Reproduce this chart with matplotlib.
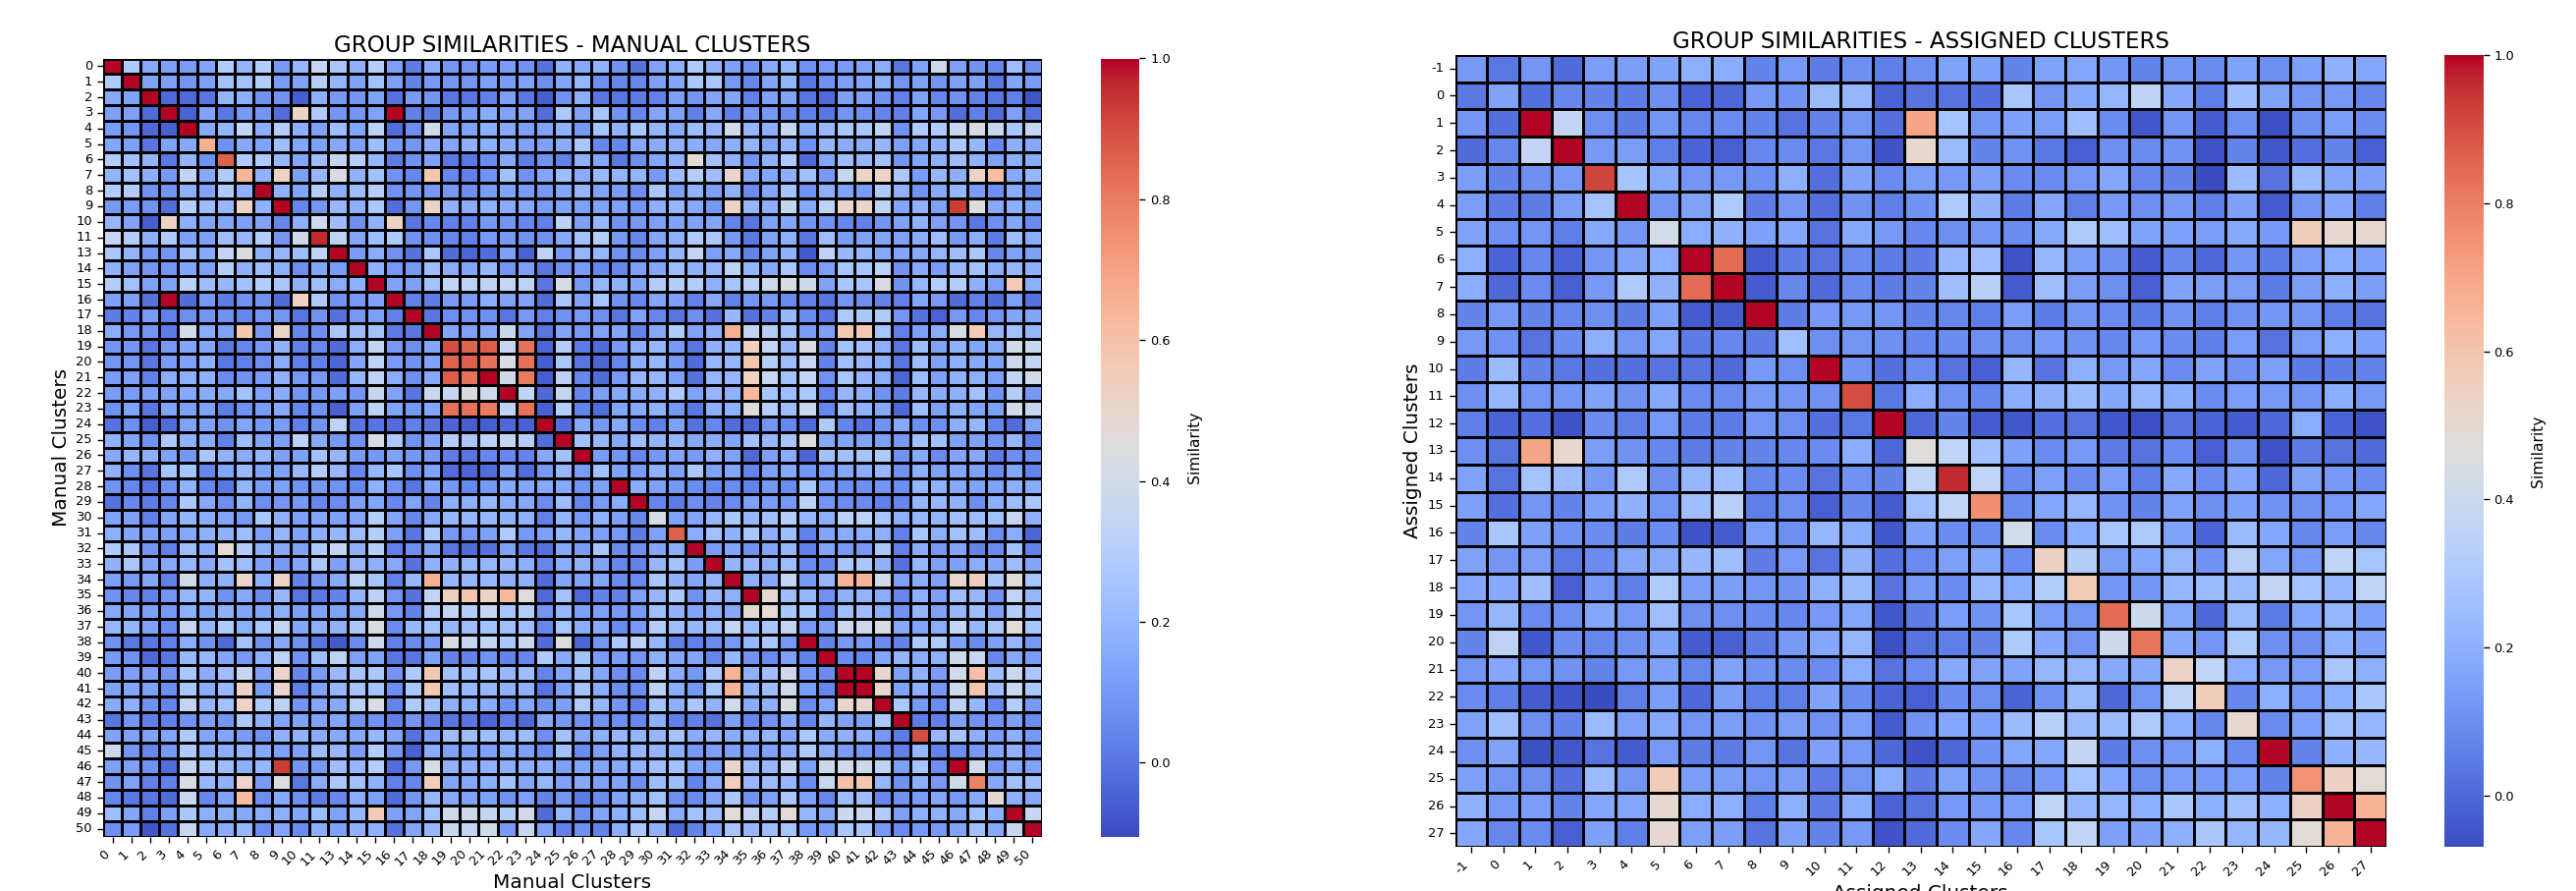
import numpy as np
import matplotlib
matplotlib.use("Agg")
import matplotlib.pyplot as plt
import seaborn as sns

manual_labels = [str(i) for i in list(range(0, 12)) + list(range(13, 51))]
assigned_labels = [str(i) for i in range(-1, 28)]

# Upper triangles (percent similarity), each row starts on the diagonal
manual_upper = [
    [100,28,15,12,11,14,29,19,29,10,20,36,27,18,30,12,2,16,9,9,11,11,8,-1, 18,15,18,8,-1,13,17,28,18,12,8,15,20,8,10,11,13,16,0,13,38,12,8,5,22,7],
    [100,13,12,9,12,24,24,29,11,13,30,19,13,24,12,4,10,9,9,12,11,13,7, 14,20,7,5,5,12,14,27,27,10,5,14,19,1,8,12,14,17,9,13,9,12,12,1,14,11],
    [100,-3,-3,0,19,17,8,8,-6,17,10,9,13,-1,11,9,0,0,3,12,1,-6, 8,17,0,0,2,3,12,9,14,14,3,12,13,0,-3,12,12,8,3,13,5,8,3,0,3,-8],
    [100,-5,13,1,10,9,-2,52,28,9,9,13,100,3,2,10,11,16,13,13,-2, 27,13,25,8,5,14,12,3,15,3,9,10,6,3,0,9,7,4,3,14,10,-2,3,-2,12,-1],
    [100,15,19,34,17,30,17,12,22,14,32,-2,7,40,14,13,17,15,12,13, 18,10,25,18,27,19,15,22,20,40,20,17,36,16,21,26,26,34,8,28,28,36,43,36,27,36],
    [66,8,15,13,22,14,12,15,12,22,10,9,16,14,17,17,16,13,12, 16,26,5,5,15,16,18,16,15,17,19,14,19,8,20,16,16,20,12,14,17,27,20,5,17,15],
    [86,28,28,20,14,22,35,30,20,2,8,13,1,1,6,15,2,8, 3,18,14,1,7,14,18,47,24,18,8,18,28,-3,14,22,20,24,9,14,17,22,18,13,17,16],
    [64,18,52,12,20,43,18,24,8,5,58,5,3,8,24,8,14, 22,16,21,19,19,10,22,30,22,50,15,14,17,24,10,36,52,52,27,11,20,17,50,62,15,20],
    [100,18,13,30,17,22,30,8,9,10,10,7,11,13,11,10, 14,20,13,11,7,26,12,18,12,18,6,14,25,8,17,13,11,28,18,8,15,20,11,7,16,7],
    [100,5,9,20,17,27,-2,9,51,18,16,18,16,15,11, 12,12,13,12,9,17,20,15,10,52,20,17,35,15,33,50,50,33,14,18,12,93,45,15,17,14],
    [17,38,22,7,18,52,0,5,3,3,10,9,5,3, 32,12,20,8,10,12,13,13,14,4,0,12,14,8,8,5,3,9,13,18,12,9,1,7,14,6],
    [96,33,14,22,28,8,7,5,3,10,10,8,8, 15,24,30,10,5,14,17,28,27,10,1,13,17,0,22,11,13,14,13,16,22,10,16,2,22,16],
    [100,11,16,8,-1,26,-2,-4,-2,12,-5,33, 10,20,20,8,6,12,20,35,12,15,4,13,18,-7,33,21,20,15,14,15,20,22,27,5,13,12],
    [100,18,10,10,22,16,14,20,9,12,0, 8,11,5,5,12,14,22,18,20,33,19,15,26,6,12,25,25,32,8,15,11,20,24,16,20,18],
    [100,13,12,24,35,33,33,36,33,0, 42,10,20,18,14,30,30,30,17,25,32,38,43,38,13,27,25,43,8,20,29,30,18,12,56,17],
    [100,3,2,10,11,16,13,13,-2, 27,13,25,8,5,14,12,3,15,3,9,10,6,3,0,9,7,4,3,14,10,-2,3,-2,12,-1],
    [100,0,7,8,7,0,10,3, 8,10,7,0,13,5,0,7,-1,21,-1,4,21,6,0,28,27,28,9,-1,-5,10,5,9,14,14],
    [100,14,13,15,37,14,0, 14,10,13,14,4,15,28,13,18,66,34,30,24,11,12,57,57,25,3,12,16,42,55,20,24,20],
    [90,85,87,36,82,-4, 30,2,-2,10,17,20,10,0,18,20,53,35,20,43,4,24,23,17,0,22,13,18,14,15,40,37],
    [86,82,43,82,-6, 26,0,-4,5,17,20,10,-2,20,20,58,30,22,36,4,23,21,17,0,22,13,17,15,13,38,34],
    [100,39,80,-6, 32,5,-2,10,20,20,12,-1,20,20,52,36,24,35,8,25,20,16,-4,22,12,18,17,12,35,40],
    [100,34,-3, 35,5,12,15,16,18,28,13,20,18,63,25,23,27,4,20,18,8,2,20,16,17,24,8,30,10],
    [82,-5, 30,4,-2,14,15,18,10,1,17,18,46,30,22,37,5,22,18,15,-3,22,12,17,14,12,40,36],
    [100, -2,15,10,15,6,3,12,-1,5,-2,-3,9,5,-2,28,4,0,8,15,7,7,17,20,4,-2,13],
    [100,24,20,15,22,19,20,15,16,14,24,20,25,44,15,14,13,12,10,24,24,12,12,9,20,3],
    [100,11,9,5,10,14,11,18,13,-3,12,16,-4,24,24,25,28,8,15,6,14,15,2,7,7],
    [24,12,11,18,12,26,13,14,4,12,15,9,11,14,16,20,8,17,12,14,12,6,14,4],
    [100,16,12,10,6,5,6,4,10,6,26,11,7,7,9,7,20,18,15,13,13,17,16],
    [100,5,2,7,4,6,12,11,10,32,9,6,6,3,5,19,20,18,7,17,22,27],
    [42,13,14,20,27,20,23,30,20,17,32,33,25,17,20,19,23,22,24,36,18],
    [86,16,24,18,27,18,22,3,14,16,17,17,3,25,17,24,22,7,16,-4],
    [100,11,14,8,14,20,3,14,10,10,26,3,16,10,14,4,6,24,4],
    [100,19,20,17,22,6,5,27,27,18,-1,20,12,12,16,14,22,14],
    [100,17,15,35,10,20,65,65,40,12,16,12,50,54,27,47,25],
    [100,48,22,20,8,18,19,16,5,17,12,22,20,8,34,20],
    [47,27,27,6,23,22,17,8,19,13,20,22,12,30,22],
    [34,10,12,38,38,42,15,14,16,35,20,26,47,25],
    [100,4,10,11,6,4,27,28,12,6,12,20,10],
    [100,6,5,14,19,16,17,38,36,5,15,11],
    [100,100,50,13,18,11,40,60,22,37,26],
    [100,50,13,18,10,38,58,22,37,27],
    [100,27,10,6,33,20,5,30,10],
    [100,2,3,12,8,8,12,6],
    [90,20,25,17,11,17,10],
    [4,7,10,14,18,10],
    [100,40,10,15,13],
    [78,15,24,23],
    [48,17,15],
    [100,36],
    [100],
]

assigned_upper = [
    [13,4,12,1,14,14,16,20,19,7,13,5,10,6,10,16,15,7,16,17,12,7,12,9,16,10,15,21,17],
    [16,2,8,7,5,10,-1,0,13,11,24,22,-1,3,3,2,29,12,18,22,35,17,6,25,16,12,13,8],
    [100,37,10,5,12,8,9,7,3,7,12,2,70,27,12,15,14,25,9,-4,12,-3,10,-6,10,14,9],
    [100,13,14,6,-1,-2,8,9,4,12,-5,51,24,7,11,4,-2,10,9,11,-5,7,-4,2,7,-2],
    [92,27,18,12,13,10,20,2,16,9,14,13,15,9,9,13,17,8,7,-7,24,3,24,17,15],
    [100,12,16,30,5,12,2,11,6,11,30,21,5,17,6,13,10,13,6,15,-3,12,17,6],
    [42,19,21,15,17,3,18,13,8,10,12,9,18,30,25,16,15,14,18,13,56,50,50],
    [100,84,-3,5,3,9,5,5,22,25,-5,23,14,10,-3,8,0,12,5,14,19,15],
    [100,-3,8,1,9,5,7,25,33,-3,25,14,10,-2,16,14,14,5,14,20,14],
    [100,5,13,13,12,7,8,6,14,5,12,9,5,11,6,11,12,12,6,3],
    [26,10,12,10,8,9,10,10,13,11,8,13,9,6,14,3,14,20,15],
    [100,11,2,9,3,-2,22,3,20,13,17,9,16,11,15,5,5,7],
    [90,4,19,11,8,19,21,24,17,22,19,9,14,13,12,19,13],
    [100,0,7,-3,-4,2,3,-4,-6,3,-1,-3,0,19,-1,-5],
    [47,36,26,15,9,13,5,3,9,-2,11,-5,5,3,1],
    [96,36,9,15,9,14,6,18,9,17,0,16,13,9],
    [76,9,17,22,11,7,16,10,15,11,11,13,17],
    [42,9,19,28,30,16,-1,24,17,8,14,8],
    [54,32,14,17,22,11,33,17,13,36,28],
    [57,12,12,22,24,24,37,27,22,36],
    [84,40,18,0,24,5,17,22,15],
    [82,18,12,30,10,10,20,15],
    [53,36,19,13,14,29,20],
    [56,8,20,13,20,29],
    [50,9,15,26,22],
    [100,7,20,23],
    [75,54,49],
    [100,66],
    [100],
]


def full(upper):
    n = len(upper)
    m = np.zeros((n, n))
    for i, row in enumerate(upper):
        for k, v in enumerate(row):
            m[i, i + k] = m[i + k, i] = v / 100
    return m


W, H = 2623, 907
DPI = 200
fig = plt.figure(figsize=(W / DPI, H / DPI), dpi=DPI)


def box(x0, x1, y0, y1):
    return [x0 / W, 1 - y1 / H, (x1 - x0) / W, (y1 - y0) / H]


panels = [
    dict(mat=full(manual_upper), labels=manual_labels, name="Manual Clusters",
         title="GROUP SIMILARITIES - MANUAL CLUSTERS", ax=(105, 1061, 59.5, 851.5),
         cax=(1121, 1160.5, 59.5, 851.5), vmin=-0.105, lw=0.5, fs=4.7,
         ylab_x=-0.063, xlab_y=-0.055, cb_x=1160.5 + 50, tpad=2.5),
    dict(mat=full(assigned_upper), labels=assigned_labels, name="Assigned Clusters",
         title="GROUP SIMILARITIES - ASSIGNED CLUSTERS", ax=(1481.5, 2430, 55.7, 862.3),
         cax=(2489, 2528.5, 55.7, 862.3), vmin=-0.069, lw=0.5, fs=4.7,
         ylab_x=-0.03, xlab_y=-0.05, cb_x=2528.5 + 50, tpad=2.5),
]

for p in panels:
    ax = fig.add_axes(box(*p["ax"]))
    cax = fig.add_axes(box(*p["cax"]))
    sns.heatmap(p["mat"], ax=ax, cbar_ax=cax, cmap="coolwarm", vmin=p["vmin"], vmax=1.0,
                linewidths=p["lw"], linecolor="black", square=False,
                xticklabels=p["labels"], yticklabels=p["labels"],
                cbar_kws={"label": "Similarity"})
    ax.set_title(p["title"], fontsize=8.3, pad=p["tpad"])
    ax.set_xlabel(p["name"], fontsize=7.2, labelpad=2)
    ax.set_ylabel(p["name"], fontsize=7.2, labelpad=2)
    ax.tick_params(axis="both", labelsize=p["fs"], length=2.2, width=0.5, pad=1.8)
    plt.setp(ax.get_xticklabels(), rotation=45, ha="right", rotation_mode="default")
    plt.setp(ax.get_yticklabels(), rotation=0)
    cax.tick_params(labelsize=p["fs"], length=2.2, width=0.5, pad=1.8)
    cax.set_ylabel("Similarity", fontsize=5.6, labelpad=6)

fig.savefig("out.png", dpi=DPI)
